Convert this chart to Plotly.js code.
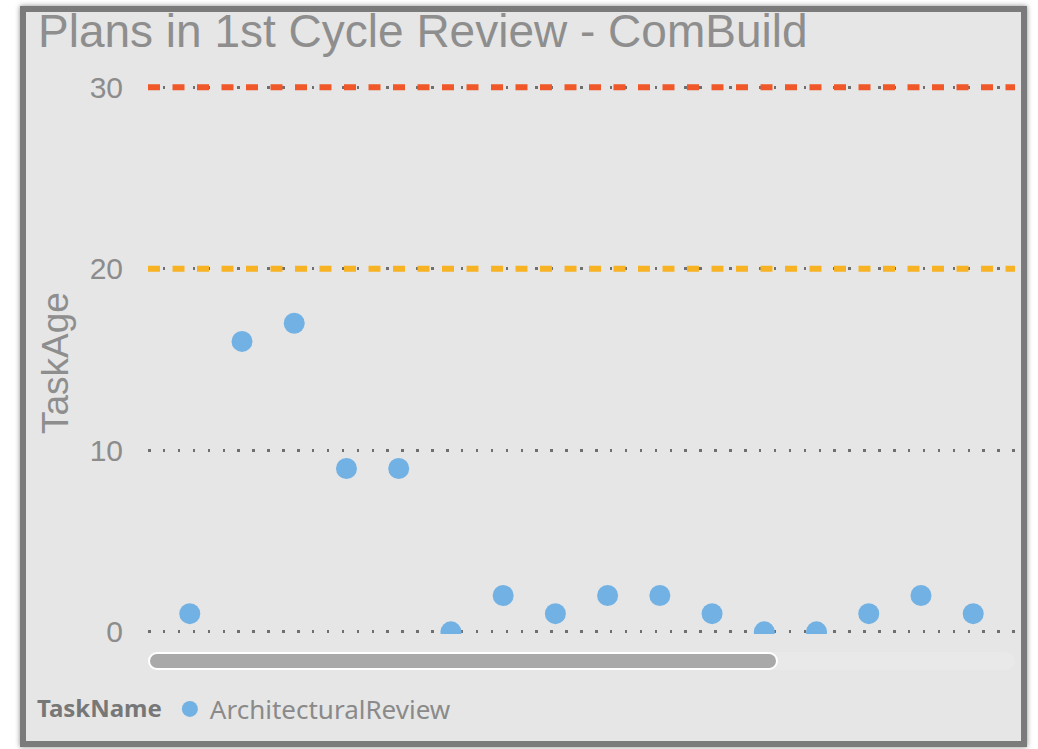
<!DOCTYPE html>
<html>
<head>
<meta charset="utf-8">
<script src="https://cdn.plot.ly/plotly-3.0.1.min.js"></script>
<style>
  html, body { margin: 0; padding: 0; background: #ffffff; width: 1038px; height: 749px; overflow: hidden; }
  #frame { position: absolute; left: 20px; top: 6px; width: 1007px; height: 741px; box-sizing: border-box;
           border: 6px solid #7b7b7b; background: #e6e6e6; box-shadow: 0 0 5px rgba(0,0,0,0.45); }
  #chart { position: absolute; left: 0; top: 0; width: 1038px; height: 749px; }
  #track { position: absolute; left: 148px; top: 652px; width: 867px; height: 18px; border-radius: 9px; background: #e9e9e9; }
  #thumb { position: absolute; left: 148px; top: 652px; width: 630px; height: 18px; border-radius: 9px; box-sizing: border-box;
           background: #a9a9a9; border: 2px solid #ffffff; }
</style>
</head>
<body>
<div id="frame"></div>
<div id="track"></div>
<div id="chart"></div>
<div id="thumb"></div>
<script>
// ---- data ----
const planIndex = [1, 2, 3, 4, 5, 6, 7, 8, 9, 10, 11, 12, 13, 14, 15, 16];
const taskAge   = [1, 16, 17, 9, 9, 0, 2, 1, 2, 2, 1, 0, 0, 1, 2, 1];
const seriesName = "ArchitecturalReview";
const legendTitle = "TaskName";
const yTicks = [0, 10, 20, 30];
const thresholds = [30, 20];
const thresholdColors = ["#f0582a", "#f7b324"];

const grey = "#8f8f8f";

const trace = {
  x: planIndex,
  y: taskAge,
  type: "scatter",
  mode: "markers",
  name: seriesName,
  marker: { color: "#72b1e3", size: 21, line: { width: 0 } },
  cliponaxis: true,
  hoverinfo: "y"
};

const shapes = thresholds.map((t, i) => ({
  type: "line", xref: "paper", yref: "y",
  x0: 0, x1: 1, y0: t, y1: t,
  line: { color: thresholdColors[i], width: 6, dash: "12px,12.5px" },
  layer: "above"
}));

const layout = {
  width: 1038, height: 749,
  margin: { l: 148, r: 23, t: 71, b: 115, pad: 0 },
  paper_bgcolor: "rgba(0,0,0,0)",
  plot_bgcolor: "rgba(0,0,0,0)",
  font: { family: "Liberation Sans, Arial, sans-serif", color: grey },
  title: {
    text: "Plans in 1st Cycle Review - ComBuild",
    font: { family: "Liberation Sans, Arial, sans-serif", size: 46, color: "#8e8e8e" },
    x: 38 / 1038, xref: "container", xanchor: "left",
    y: 1 - 31 / 749, yref: "container", yanchor: "middle"
  },
  xaxis: {
    range: [0.2, 16.8], showgrid: false, zeroline: false, showline: false,
    showticklabels: false, ticks: "", fixedrange: true
  },
  yaxis: {
    range: [-0.12, 30.9], tickvals: yTicks, ticktext: yTicks.map(String),
    showgrid: true, gridcolor: "#6f6f6f", gridwidth: 2.5, griddash: "2.5px,12.4px",
    zeroline: false, showline: false, ticks: "",
    ticklabelstandoff: 24,
    tickfont: { family: "Liberation Sans, Arial, sans-serif", size: 30, color: "#8c8c8c" },
    fixedrange: true
  },
  annotations: [{
    text: "TaskAge", xref: "paper", yref: "paper",
    x: (55 - 148) / 867, y: (632 - 361) / 563,
    xanchor: "center", yanchor: "middle", textangle: -90, showarrow: false,
    font: { family: "Liberation Sans, Arial, sans-serif", size: 37, color: "#8e8e8e" }
  }],
  shapes: shapes,
  showlegend: true,
  legend: {
    orientation: "h", xref: "container", yref: "container",
    x: 35 / 1038, xanchor: "left", y: 1 - 709 / 749, yanchor: "middle",
    bgcolor: "rgba(0,0,0,0)",
    title: { text: "<b>" + legendTitle + "</b>", side: "left",
             font: { family: "Noto Sans, Open Sans, sans-serif", size: 24, color: "#777777" } },
    font: { family: "Noto Sans, Open Sans, sans-serif", size: 26, color: "#8a8a8a" },
    itemwidth: 30
  },
  hovermode: "closest"
};

Plotly.newPlot("chart", [trace], layout, { displayModeBar: false, staticPlot: false, responsive: false });
</script>
</body>
</html>
